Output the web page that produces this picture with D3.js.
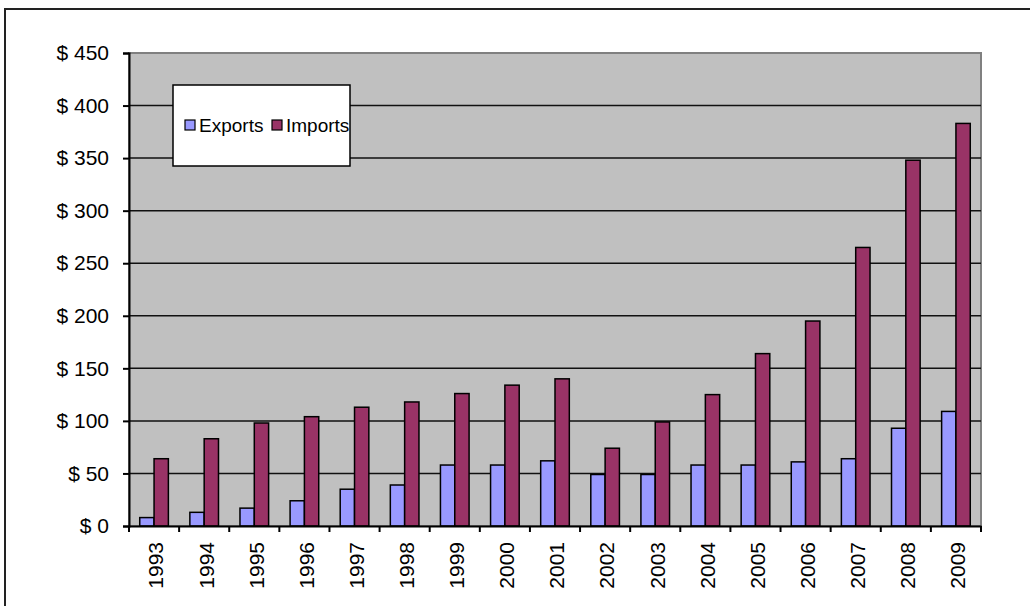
<!DOCTYPE html>
<html>
<head>
<meta charset="utf-8">
<script src="https://cdn.jsdelivr.net/npm/d3@7"></script>
<style>
  body { margin: 0; background: #fff; }
  text { font-family: "Liberation Sans", Arial, sans-serif; fill: #000; }
</style>
</head>
<body>
<div id="chart"></div>
<script>
// data
var years = ["1993", "1994", "1995", "1996", "1997", "1998", "1999", "2000", "2001",
             "2002", "2003", "2004", "2005", "2006", "2007", "2008", "2009"];
var exportsVals = [8, 13, 17, 24, 35, 39, 58, 58, 62, 49, 49, 58, 58, 61, 64, 93, 109];
var importsVals = [64, 83, 98, 104, 113, 118, 126, 134, 140, 74, 99, 125, 164, 195, 265, 348, 383];
var yTicks = [0, 50, 100, 150, 200, 250, 300, 350, 400, 450];
var seriesNames = ["Exports", "Imports"];
var seriesColors = ["#9999FF", "#993366"];

var svgWidth = 1030;
var svgHeight = 606;

var margin = { top: 53, right: 49, bottom: 80, left: 129 };
var width = 981 - margin.left;
var height = 526 - margin.top;

var svg = d3.select("#chart")
    .append("svg")
    .attr("width", svgWidth)
    .attr("height", svgHeight);

// outer frame (only top and left show)
svg.append("rect")
    .attr("x", 5).attr("y", 9)
    .attr("width", 1040).attr("height", 620)
    .attr("fill", "none")
    .attr("stroke", "#222")
    .attr("stroke-width", 2);

var chartGroup = svg.append("g")
    .attr("transform", `translate(${margin.left}, ${margin.top})`);

var xScale = d3.scaleBand()
    .domain(years)
    .range([0, width])
    .paddingInner(0)
    .paddingOuter(0);

var yScale = d3.scaleLinear()
    .domain([0, 450])
    .range([height, 0]);

// plot area
chartGroup.append("rect")
    .attr("width", width)
    .attr("height", height)
    .attr("fill", "#C0C0C0")
    .attr("stroke", "#808080")
    .attr("stroke-width", 2);

// gridlines
chartGroup.selectAll(".grid")
    .data(yTicks.filter(d => d > 0 && d < 450))
    .enter()
    .append("line")
    .attr("x1", 0)
    .attr("x2", width)
    .attr("y1", d => yScale(d))
    .attr("y2", d => yScale(d))
    .attr("stroke", "#111")
    .attr("stroke-width", 1.5);

// bars: gap width 150%
var barW = xScale.bandwidth() / 3.5;
var data = years.map((y, i) => ({ year: y, vals: [exportsVals[i], importsVals[i]] }));

var groups = chartGroup.selectAll(".yr")
    .data(data)
    .enter()
    .append("g")
    .attr("transform", d => `translate(${xScale(d.year) + barW * 0.75}, 0)`);

groups.selectAll("rect")
    .data(d => d.vals)
    .enter()
    .append("rect")
    .attr("x", (d, i) => i * barW)
    .attr("y", d => yScale(d))
    .attr("width", barW)
    .attr("height", d => yScale(0) - yScale(d))
    .attr("fill", (d, i) => seriesColors[i])
    .attr("stroke", "#000")
    .attr("stroke-width", 1.5);

// y axis
var leftAxis = d3.axisLeft(yScale)
    .tickValues(yTicks)
    .tickSize(6)
    .tickPadding(14)
    .tickFormat(d => "$ " + d);

var yAxisG = chartGroup.append("g").call(leftAxis);
yAxisG.select(".domain").attr("stroke", "#000").attr("stroke-width", 2);
yAxisG.selectAll(".tick line").attr("stroke", "#000").attr("stroke-width", 2);
yAxisG.selectAll(".tick text")
    .attr("font-size", "21px")
    .attr("font-family", "Liberation Sans, Arial, sans-serif");

// x axis
var bottomAxis = d3.axisBottom(xScale).tickSize(0).tickSizeOuter(0);
var xAxisG = chartGroup.append("g")
    .attr("transform", `translate(0, ${height})`)
    .call(bottomAxis);
xAxisG.select(".domain").attr("stroke", "#000").attr("stroke-width", 2);
xAxisG.selectAll(".tick text")
    .attr("font-size", "21px")
    .attr("font-family", "Liberation Sans, Arial, sans-serif")
    .attr("text-anchor", "end")
    .attr("transform", "rotate(-90)")
    .attr("x", -16)
    .attr("y", 2)
    .attr("dy", "0.35em");

// category boundary ticks
xAxisG.selectAll(".sep")
    .data(years.concat(["end"]))
    .enter()
    .append("line")
    .attr("x1", (d, i) => i * xScale.step())
    .attr("x2", (d, i) => i * xScale.step())
    .attr("y1", 0)
    .attr("y2", 6)
    .attr("stroke", "#000")
    .attr("stroke-width", 2);

// legend
var legend = svg.append("g").attr("transform", "translate(173, 85)");
legend.append("rect")
    .attr("width", 177)
    .attr("height", 81)
    .attr("fill", "#fff")
    .attr("stroke", "#000")
    .attr("stroke-width", 1.5);

var itemX = [12, 99];
var items = legend.selectAll(".item")
    .data(seriesNames)
    .enter()
    .append("g")
    .attr("transform", (d, i) => `translate(${itemX[i]}, 35)`);

items.append("rect")
    .attr("width", 10)
    .attr("height", 10)
    .attr("fill", (d, i) => seriesColors[i])
    .attr("stroke", "#000")
    .attr("stroke-width", 1.2);

items.append("text")
    .attr("x", 14)
    .attr("y", 5)
    .attr("dy", "0.35em")
    .attr("font-size", "19px")
    .text(d => d);
</script>
</body>
</html>
